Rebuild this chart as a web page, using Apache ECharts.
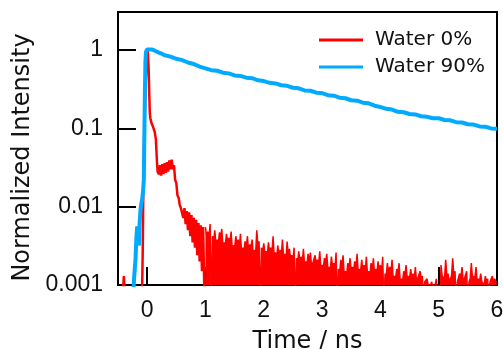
<!DOCTYPE html>
<html>
<head>
<meta charset="utf-8">
<script src="https://cdn.jsdelivr.net/npm/echarts@6/dist/echarts.min.js"></script>
<style>
html,body{margin:0;padding:0;background:#fff;}
#chart{width:503px;height:349px;}
</style>
</head>
<body>
<div id="chart"></div>
<script>
// ---- data ----
const seriesNames = ['Water 0%', 'Water 90%'];
const xTickValues = [0, 1, 2, 3, 4, 5, 6];

// Water 0% : rise, peak, fast decay, shoulder, early noisy band
const red0T = [-0.42, -0.40, -0.38,
  -0.10, -0.085, -0.075, -0.065, -0.05, -0.03, -0.01, 0.01, 0.025, 0.035, 0.045, 0.055, 0.07, 0.09, 0.11, 0.13, 0.15, 0.16, 0.17, 0.18,
  0.20, 0.22, 0.24, 0.26, 0.28, 0.30, 0.32, 0.34, 0.36, 0.38, 0.40, 0.42, 0.44, 0.46, 0.48, 0.50, 0.52, 0.54, 0.56, 0.58,
  0.60, 0.62, 0.64, 0.66, 0.68, 0.70, 0.72, 0.74, 0.76, 0.78, 0.80, 0.82, 0.84, 0.86, 0.88, 0.90, 0.92, 0.94, 0.96, 0.98];
const red0V = [0.0007, 0.0013, 0.0007,
  0.0007, 0.001, 0.003, 0.02, 0.08, 0.3, 0.7, 1.0, 0.6, 0.3, 0.16, 0.135, 0.12, 0.11, 0.1, 0.09, 0.072, 0.05, 0.035, 0.028,
  0.026, 0.034, 0.025, 0.035, 0.026, 0.036, 0.027, 0.037, 0.028, 0.039, 0.03, 0.04, 0.03, 0.034, 0.022, 0.02, 0.014, 0.013, 0.0105, 0.0095,
  0.0098, 0.0072, 0.0096, 0.006, 0.0088, 0.005, 0.0085, 0.0042, 0.0078, 0.0035, 0.0072, 0.003, 0.0068, 0.0024, 0.0062, 0.002, 0.0058, 0.0015, 0.0055, 0.0009];

// Water 0% : noisy tail, peaks every 0.04 ns from 1.00 ns, troughs halfway between
const red0NoiseStart = 1.0;
const red0NoiseStep = 0.04;
const red0Peaks = [
  0.0055, 0.0048, 0.006, 0.0042, 0.005, 0.0038, 0.0047, 0.0052, 0.0035, 0.0045,
  0.004, 0.0048, 0.0032, 0.0042, 0.0038, 0.0045, 0.003, 0.0036, 0.0042, 0.0033,
  0.0038, 0.0028, 0.005, 0.0036, 0.003, 0.0034, 0.0027, 0.0035, 0.003, 0.0042,
  0.0026, 0.0032, 0.0028, 0.0038, 0.0025, 0.0036, 0.0029, 0.0024, 0.003, 0.0022,
  0.0027, 0.0023, 0.0029, 0.002, 0.0025, 0.0026, 0.0019, 0.0024, 0.0021, 0.0027,
  0.0018, 0.0022, 0.0025, 0.0017, 0.0023, 0.0019, 0.0026, 0.0016, 0.0021, 0.0024,
  0.0015, 0.0019, 0.0022, 0.0017, 0.002, 0.0025, 0.0016, 0.0021, 0.0018, 0.0023,
  0.0015, 0.0019, 0.0022, 0.0016, 0.002, 0.0018, 0.0023, 0.0014, 0.0019, 0.0017,
  0.0021, 0.0013, 0.0016, 0.0019, 0.0012, 0.0015, 0.0018, 0.0013, 0.0016, 0.0014,
  0.0017, 0.0012, 0.0015, 0.0013, 0.0011, 0.0012, 0.001, 0.0011, 0.0009, 0.0012,
  0.0008, 0.0018, 0.0013, 0.0021, 0.0014, 0.0012, 0.0022, 0.0015, 0.0011, 0.0014,
  0.0017, 0.0012, 0.0015, 0.0011, 0.0019, 0.0013, 0.0017, 0.0012, 0.0014, 0.0011,
  0.0013, 0.0012, 0.0011, 0.0013, 0.0012, 0.0011];
const red0Troughs = [
  0.0042, 0.004, 0.0005, 0.0036, 0.0033, 0.0034, 0.004, 0.003, 0.0032, 0.0036,
  0.0034, 0.0028, 0.003, 0.0033, 0.003, 0.0026, 0.0027, 0.0031, 0.0027, 0.003,
  0.0024, 0.0025, 0.0032, 0.0005, 0.0026, 0.0025, 0.0024, 0.0027, 0.0026, 0.0022,
  0.0022, 0.0024, 0.0023, 0.0023, 0.0021, 0.0024, 0.0021, 0.002, 0.0005, 0.0019,
  0.002, 0.0019, 0.0018, 0.0018, 0.002, 0.0017, 0.0018, 0.0018, 0.0018, 0.0016,
  0.0016, 0.0019, 0.0016, 0.0015, 0.0017, 0.0016, 0.0005, 0.0014, 0.0017, 0.0013,
  0.0013, 0.0016, 0.0015, 0.0015, 0.0016, 0.0014, 0.0015, 0.0015, 0.0015, 0.0013,
  0.0013, 0.0015, 0.0014, 0.0014, 0.0015, 0.0014, 0.0005, 0.0013, 0.0014, 0.0014,
  0.0012, 0.0012, 0.0014, 0.0011, 0.0011, 0.0013, 0.0012, 0.0012, 0.0012, 0.0012,
  0.0011, 0.0012, 0.0012, 0.0005, 0.0011, 0.001, 0.001, 0.0009, 0.001, 0.0005,
  0.0005, 0.0013, 0.0012, 0.0013, 0.0011, 0.0013, 0.0013, 0.0005, 0.0011, 0.0012,
  0.0011, 0.0012, 0.0005, 0.0012, 0.0012, 0.0012, 0.0011, 0.0011, 0.0011, 0.001,
  0.0011, 0.0005, 0.0011, 0.0011, 0.0011];

// Water 90%
const blue90T = [-0.24, -0.225, -0.2, -0.185, -0.17, -0.155, -0.14, -0.13, -0.115, -0.1, -0.086, -0.07, -0.057, -0.05, -0.04, -0.03, -0.02,
  0.0, 0.03, 0.08, 0.15, 0.2, 0.25, 0.3, 0.4, 0.5, 0.6, 0.7, 0.8, 0.9, 1.0, 1.1, 1.2, 1.3, 1.4, 1.5, 1.6, 1.7, 1.8, 1.9, 2.0,
  2.1, 2.2, 2.3, 2.4, 2.5, 2.6, 2.7, 2.8, 2.9, 3.0, 3.1, 3.2, 3.3, 3.4, 3.5, 3.6, 3.7, 3.8, 3.9, 4.0,
  4.1, 4.2, 4.3, 4.4, 4.5, 4.6, 4.7, 4.8, 4.9, 5.0, 5.1, 5.2, 5.3, 5.4, 5.5, 5.6, 5.7, 5.8, 5.9, 6.0];
const blue90V = [0.0007, 0.0012, 0.0021, 0.004, 0.0056, 0.004, 0.0032, 0.006, 0.009, 0.011, 0.0123, 0.016, 0.022, 0.06, 0.25, 0.7, 0.95,
  1.02, 1.05, 1.02, 0.97, 0.93, 0.9, 0.86, 0.825, 0.775, 0.745, 0.695, 0.665, 0.615, 0.585, 0.555, 0.545, 0.515, 0.505, 0.475, 0.468, 0.445, 0.438, 0.412, 0.403,
  0.382, 0.376, 0.356, 0.35, 0.331, 0.325, 0.306, 0.303, 0.286, 0.283, 0.266, 0.262, 0.247, 0.243, 0.229, 0.226, 0.213, 0.209, 0.195, 0.188,
  0.178, 0.174, 0.163, 0.161, 0.153, 0.151, 0.143, 0.141, 0.135, 0.135, 0.128, 0.127, 0.12, 0.119, 0.113, 0.112, 0.106, 0.105, 0.1, 0.099];

// ---- build series data ----
const red0Data = red0T.map((t, i) => [t, red0V[i]]);
const red0TailData = [];
red0Peaks.forEach((v, i) => {
  const t = red0NoiseStart + i * red0NoiseStep;
  red0TailData.push([t, v]);
  if (i < red0Troughs.length) red0TailData.push([t + red0NoiseStep / 2, red0Troughs[i]]);
});
const blue90Data = blue90T.map((t, i) => [t, blue90V[i]]);

const tickFont = 'Liberation Sans, Arial, sans-serif';
const titleFont = 'DejaVu Sans, sans-serif';
const RED = '#ff0000';
const BLUE = '#00aaff';

const chart = echarts.init(document.getElementById('chart'), null, {renderer: 'canvas'});
chart.setOption({
  animation: false,
  backgroundColor: '#ffffff',
  grid: {left: 118, right: 6, top: 12, bottom: 64, show: true, borderColor: '#000', borderWidth: 2,
    backgroundColor: 'transparent', containLabel: false, outerBoundsMode: 'none'},
  legend: {
    data: seriesNames,
    orient: 'vertical',
    left: 314, top: 25,
    itemWidth: 44, itemHeight: 3, itemGap: 7,
    icon: 'rect',
    textStyle: {fontFamily: titleFont, fontSize: 20, color: '#111', lineHeight: 20, padding: [0, 0, 0, 7]}
  },
  xAxis: {
    type: 'value', min: -0.5, max: 6,
    name: 'Time / ns', nameLocation: 'middle', nameGap: 45,
    nameTextStyle: {fontFamily: titleFont, fontSize: 24, color: '#111'},
    axisLine: {show: false, onZero: false},
    axisTick: {show: true, inside: true, length: 18, lineStyle: {color: '#000', width: 2}, customValues: xTickValues},
    axisLabel: {fontFamily: tickFont, fontSize: 23, color: '#111', margin: 14, customValues: xTickValues},
    splitLine: {show: false}
  },
  yAxis: {
    type: 'log', logBase: 10, min: 0.001, max: 3.07,
    name: 'Normalized Intensity', nameLocation: 'middle', nameGap: 69,
    nameTextStyle: {fontFamily: titleFont, fontSize: 24, color: '#111', padding: [0, 18, 0, 0]},
    axisLine: {show: false, onZero: false},
    axisTick: {show: true, inside: true, length: 18, lineStyle: {color: '#000', width: 2}},
    axisLabel: {fontFamily: tickFont, fontSize: 23, color: '#111', margin: 15, showMaxLabel: false,
      formatter: v => String(+(+v).toPrecision(3))},
    splitLine: {show: false}
  },
  series: [
    {name: seriesNames[0], type: 'line', data: red0Data, showSymbol: false, symbol: 'none', sampling: 'none', clip: true,
      color: RED, lineStyle: {color: RED, width: 2.5}},
    {name: seriesNames[0], type: 'line', data: red0TailData, showSymbol: false, symbol: 'none', sampling: 'none', clip: true,
      color: RED, lineStyle: {color: RED, width: 1.5}, areaStyle: {color: RED, opacity: 1, origin: 'start'}},
    {name: seriesNames[1], type: 'line', data: blue90Data, showSymbol: false, symbol: 'none', sampling: 'none', clip: true,
      color: BLUE, lineStyle: {color: BLUE, width: 4}}
  ]
});
</script>
</body>
</html>
